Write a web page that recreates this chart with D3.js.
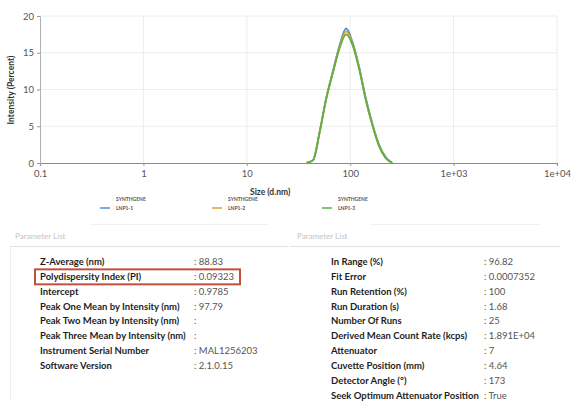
<!DOCTYPE html>
<html>
<head>
<meta charset="utf-8">
<script src="https://cdn.jsdelivr.net/npm/d3@7"></script>
<style>
  html, body { margin: 0; padding: 0; background: #ffffff; }
  svg { display: block; }
</style>
</head>
<body>
<svg id="chart" width="571" height="406"></svg>
<script>
// Size distribution by intensity (log-spaced size bins, d.nm)
const sizeBins = [37.84, 43.82, 50.75, 58.77, 68.06, 78.82, 91.28, 105.7, 122.4, 141.8, 164.2, 190.1, 220.2, 255.0];
const seriesNames = ["LNP1-1", "LNP1-2", "LNP1-3"];
const seriesPrefix = "SYNTHGENE";
const intensityLNP1_1 = [0, 0.4, 4.3, 8.9, 12.5, 16.0, 18.3, 16.4, 13.0, 8.8, 5.3, 2.5, 0.8, 0];
const intensityLNP1_2 = [0, 0.4, 4.2, 8.8, 12.4, 15.8, 17.9, 16.2, 12.9, 8.6, 5.2, 2.4, 0.7, 0];
const intensityLNP1_3 = [0, 0.4, 4.3, 8.8, 12.3, 15.6, 17.5, 16.0, 12.7, 8.5, 5.1, 2.3, 0.7, 0];
const seriesColors = ["#4f92d6", "#e0a22e", "#5fb043"];

const xTicks = [0.1, 1, 10, 100, 1000, 10000];
const xTickLabels = ["0.1", "1", "10", "100", "1e+03", "1e+04"];
const yTicks = [0, 5, 10, 15, 20];

// Result tables
const leftLabels = ["Z-Average (nm)", "Polydispersity Index (PI)", "Intercept", "Peak One Mean by Intensity (nm)",
  "Peak Two Mean by Intensity (nm)", "Peak Three Mean by Intensity (nm)", "Instrument Serial Number", "Software Version"];
const leftValues = ["88.83", "0.09323", "0.9785", "97.79", "", "", "MAL1256203", "2.1.0.15"];
const rightLabels = ["In Range (%)", "Fit Error", "Run Retention (%)", "Run Duration (s)", "Number Of Runs",
  "Derived Mean Count Rate (kcps)", "Attenuator", "Cuvette Position (mm)", "Detector Angle (°)", "Seek Optimum Attenuator Position"];
const rightValues = ["96.82", "0.0007352", "100", "1.68", "25", "1.891E+04", "7", "4.64", "173", "True"];
const panelTitles = ["Parameter List", "Parameter List"];
const highlightedRow = 1;

const svg = d3.select("#chart");
const fontUI = "Lato, 'Open Sans', sans-serif";

const x = d3.scaleLog().domain([0.1, 10000]).range([40, 557]);
const y = d3.scaleLinear().domain([0, 20]).range([163, 16]);

// grid
const grid = svg.append("g");
grid.selectAll("line.h").data(yTicks.slice(1)).join("line")
  .attr("x1", x(0.1)).attr("x2", x(10000))
  .attr("y1", d => y(d)).attr("y2", d => y(d))
  .attr("stroke", "#ececec").attr("stroke-width", 1);
grid.selectAll("line.v").data(xTicks.slice(1)).join("line")
  .attr("x1", d => x(d)).attr("x2", d => x(d))
  .attr("y1", y(0)).attr("y2", y(20))
  .attr("stroke", "#ececec").attr("stroke-width", 1);

// axes
const xAxis = d3.axisBottom(x).tickValues(xTicks).tickFormat((d, i) => xTickLabels[i]).tickSize(3).tickPadding(4);
const gx = svg.append("g").attr("transform", `translate(0,${y(0)})`).call(xAxis);
gx.select(".domain").attr("stroke", "#8a8a8a").attr("stroke-width", 1.2);
gx.selectAll(".tick line").attr("stroke", "#9a9a9a");
gx.selectAll("text").attr("fill", "#555").style("font", `9.5px ${fontUI}`);

const yAxis = d3.axisLeft(y).tickValues(yTicks).tickSize(3).tickPadding(3);
const gy = svg.append("g").attr("transform", `translate(${x(0.1)},0)`).call(yAxis);
gy.select(".domain").attr("stroke", "#b0b0b0");
gy.selectAll(".tick line").attr("stroke", "#9a9a9a");
gy.selectAll("text").attr("fill", "#555").style("font", `9.5px ${fontUI}`);

// axis titles
svg.append("text").attr("x", 250).attr("y", 195)
  .style("font", `bold 8.5px ${fontUI}`).attr("fill", "#333").text("Size (d.nm)");
svg.append("text").attr("transform", "translate(14,90) rotate(-90)").attr("text-anchor", "middle")
  .style("font", `bold 8.5px ${fontUI}`).attr("fill", "#333").text("Intensity (Percent)");

// distribution curves
const allSeries = [intensityLNP1_1, intensityLNP1_2, intensityLNP1_3];
const line = d3.line().x(d => x(d[0])).y(d => y(d[1])).curve(d3.curveMonotoneX);
allSeries.forEach((vals, i) => {
  svg.append("path")
    .datum(sizeBins.map((s, j) => [s, vals[j]]))
    .attr("d", line).attr("fill", "none")
    .attr("stroke", seriesColors[i]).attr("stroke-width", 1.8);
});

// legend
const legendX = [100, 212, 322];
seriesNames.forEach((name, i) => {
  const g = svg.append("g").attr("transform", `translate(${legendX[i]},208)`);
  g.append("line").attr("x1", 0).attr("x2", 10).attr("y1", 0).attr("y2", 0)
    .attr("stroke", seriesColors[i]).attr("stroke-width", 1.5);
  g.append("text").attr("x", 16).attr("y", -7).style("font", `bold 5px ${fontUI}`).attr("fill", "#555").text(seriesPrefix);
  g.append("text").attr("x", 16).attr("y", 2).style("font", `bold 5px ${fontUI}`).attr("fill", "#555").text(name);
});

// result panels
const panels = [
  { x0: 10, x1: 288, titleX: 15, labelX: 40, valueX: 194, labels: leftLabels, values: leftValues, title: panelTitles[0] },
  { x0: 290, x1: 560, titleX: 297, labelX: 331, valueX: 484, labels: rightLabels, values: rightValues, title: panelTitles[1] }
];
const rowY0 = 265, rowStep = 14.85;
panels.forEach(p => {
  svg.append("line").attr("x1", p.x0 + 80).attr("x2", p.x1 - 20).attr("y1", 224.5).attr("y2", 224.5)
    .attr("stroke", "#f0f0f0");
  svg.append("text").attr("x", p.titleX).attr("y", 239).style("font", `8px ${fontUI}`).attr("fill", "#c4c4c4").text(p.title);
  svg.append("line").attr("x1", p.x0).attr("x2", p.x1).attr("y1", 246.5).attr("y2", 246.5)
    .attr("stroke", "#e2e2e2");
  p.labels.forEach((lab, i) => {
    const yy = rowY0 + i * rowStep;
    svg.append("text").attr("x", p.labelX).attr("y", yy)
      .style("font", `bold 9.5px ${fontUI}`).attr("fill", "#1e1e1e").text(lab);
    svg.append("text").attr("x", p.valueX).attr("y", yy)
      .style("font", `9.5px ${fontUI}`).attr("fill", "#555").text(": " + p.values[i]);
  });
});
svg.append("line").attr("x1", 10.5).attr("x2", 10.5).attr("y1", 247).attr("y2", 400).attr("stroke", "#eeeeee");

// highlight around the PDI row
const hy = rowY0 + highlightedRow * rowStep;
svg.append("rect").attr("x", 35).attr("y", hy - 10.5).attr("width", 205).attr("height", 15)
  .attr("fill", "none").attr("stroke", "#c0503c").attr("stroke-width", 2);
</script>
</body>
</html>
